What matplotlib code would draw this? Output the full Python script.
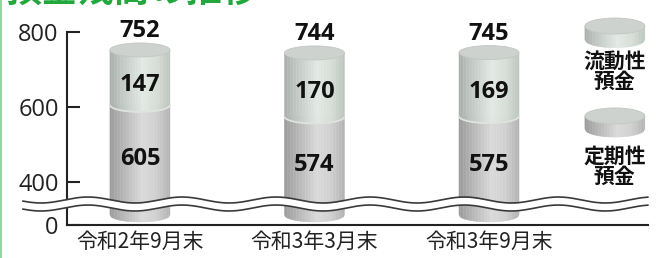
import numpy as np
import matplotlib
matplotlib.use('Agg')
import matplotlib.pyplot as plt
import matplotlib.transforms as mtransforms
from matplotlib.patches import Ellipse, Arc
from matplotlib.collections import PolyCollection
from matplotlib.colors import LinearSegmentedColormap
from matplotlib.lines import Line2D

plt.rcParams['font.family'] = ['Noto Sans CJK JP', 'DejaVu Sans']
NUM_FONT = ['Open Sans', 'Noto Sans CJK JP']

# --------------------------------------------------------------------------- #
# Data
# --------------------------------------------------------------------------- #
TITLE = '預金残高の推移'
PERIODS = ['令和2年9月末', '令和3年3月末', '令和3年9月末']
FIXED = [605, 574, 575]        # 定期性預金
LIQUID = [147, 170, 169]       # 流動性預金
TOTALS = [752, 744, 745]
YTICKS = [0, 400, 600, 800]
LEGEND_LABELS = ['流動性\n預金', '定期性\n預金']

# broken axis: everything below 400 is squeezed
BREAK = 400
K = 0.29


def fwd(v):
    v = np.asarray(v, dtype=float)
    return np.where(v >= BREAK, v, BREAK - (BREAK - v) * K)


def inv(y):
    y = np.asarray(y, dtype=float)
    return np.where(y >= BREAK, y, BREAK - (BREAK - y) / K)


fixed_cmap = LinearSegmentedColormap.from_list('fixed', [
    (0.0, '#9a9a9a'), (0.15, '#adadad'), (0.55, '#dadada'),
    (0.78, '#d0d0d0'), (0.93, '#bdbdbd'), (1.0, '#b2b2b2')])
liquid_cmap = LinearSegmentedColormap.from_list('liquid', [
    (0.0, '#a8adaa'), (0.15, '#bcc2be'), (0.55, '#e3e9e4'),
    (0.8, '#d5ddd6'), (1.0, '#bdc7be')])
CAP_COLOR = '#cdd2ce'
N_STRIPS = 40


def side(ax, xc, r, lo_fn, hi, cmap, transform=None, z=2):
    """Gradient body of a cylinder made of thin vertical strips."""
    edges = np.linspace(-1, 1, N_STRIPS + 1)
    polys, cols = [], []
    for a, b in zip(edges[:-1], edges[1:]):
        xa, xb = xc + a * r, xc + b * r
        polys.append([(xa, lo_fn(a)), (xb, lo_fn(b)), (xb, hi), (xa, hi)])
        cols.append(cmap((a + b) / 4 + 0.5))
    pc = PolyCollection(polys, facecolors=cols, edgecolors=cols,
                        linewidths=0.3, zorder=z)
    if transform is not None:
        pc.set_transform(transform)
        pc.set_clip_on(False)
    ax.add_collection(pc)


fig = plt.figure(figsize=(6.58, 2.58), dpi=100, facecolor='white')
ax = fig.add_axes([67 / 658, 33 / 258, 581 / 658, 193 / 258])
ax.set_yscale('function', functions=(fwd, inv))
ax.set_ylim(0, 800)
ax.set_xlim(-0.418, 2.911)

PX_PER_UNIT = 193 / (800 - float(fwd(0)))
HH = 7 / PX_PER_UNIT          # cap semi-height (data units, linear part)
R = 0.172                     # cylinder half width
BOT_LIFT = 10 / PX_PER_UNIT

lab_kw = dict(ha='center', va='center', fontsize=17, fontweight='bold',
              family=NUM_FONT, color='#111111', zorder=6,
              textcoords='offset points')

for i, (f, l, t) in enumerate(zip(FIXED, LIQUID, TOTALS)):
    x = i
    bot = lambda a: float(inv(fwd(0) + BOT_LIFT - HH * np.sqrt(max(1 - a * a, 0))))
    side(ax, x, R, bot, f, fixed_cmap)
    top_lo = lambda a, f=f: f - HH * np.sqrt(max(1 - a * a, 0))
    side(ax, x, R, top_lo, t, liquid_cmap, z=3)
    ax.add_patch(Arc((x, f), 2 * R, 2 * HH, theta1=190, theta2=350,
                     color='#dfe3df', lw=1.3, zorder=3.5))
    ax.add_patch(Ellipse((x, t), 2 * R, 2 * HH, fc=CAP_COLOR,
                         ec='#c2c7c3', lw=0.6, zorder=4))
    ax.annotate(str(t), (x, t + HH), xytext=(0, 0), textcoords='offset points',
                ha='center', va='bottom', fontsize=17, fontweight='bold',
                family=NUM_FONT, color='#111111', annotation_clip=False)
    ax.annotate(str(l), (x, (t - HH + f) / 2), xytext=(0, -3), **lab_kw)
    ax.annotate(str(f), (x, float(inv((f + fwd(0) + BOT_LIFT - HH) / 2))),
                xytext=(0, 3), **lab_kw)

# wavy break band
trans = mtransforms.blended_transform_factory(ax.transData, ax.transAxes)
xw = np.linspace(-0.67, 2.91, 400)
period, x0, amp = 0.539, -0.298, 0.0155
wave = amp * np.cos(2 * np.pi * (xw - x0) / period)
up, lo = 0.1295 + wave, 0.088 + wave
ax.fill_between(xw, lo, up, transform=trans, color='white', zorder=7,
                clip_on=False, lw=0)
for yy in (up, lo):
    ax.plot(xw, yy, transform=trans, color='#3a3a3a', lw=1.2, zorder=8,
            clip_on=False)

# axes styling
for s in ('top', 'right'):
    ax.spines[s].set_visible(False)
for s in ('left', 'bottom'):
    ax.spines[s].set_color('#222222')
    ax.spines[s].set_linewidth(1.5)
ax.set_yticks(YTICKS)
ax.set_yticklabels([str(v) for v in YTICKS], family=NUM_FONT)
ax.tick_params(axis='y', direction='in', length=9, width=1.5,
               labelsize=17, pad=6, colors='#222222')
ax.set_xticks(range(len(PERIODS)))
ax.set_xticklabels(PERIODS)
ax.tick_params(axis='x', length=0, labelsize=15, pad=4, colors='#222222')

# legend icons (axes fraction)
LX, LW = 0.943, 0.0516
for (ytop, ybot, ytxt), cmap, lab in zip(
        [(1.031, 0.960, 0.798), (0.565, 0.497, 0.306)],
        [liquid_cmap, fixed_cmap], LEGEND_LABELS):
    lh = 0.0415
    lo_fn = lambda a, yb=ybot: yb - lh * np.sqrt(max(1 - a * a, 0))
    side(ax, LX, LW, lo_fn, ytop, cmap, transform=ax.transAxes, z=4)
    ax.add_patch(Ellipse((LX, ytop), 2 * LW, 2 * lh, transform=ax.transAxes,
                         fc=CAP_COLOR, ec='#c2c7c3', lw=0.6, zorder=5,
                         clip_on=False))
    ax.text(LX, ytxt, lab, transform=ax.transAxes, ha='center', va='center',
            fontsize=15, fontweight='bold', linespacing=0.95, color='#111111')

# title (cut by the top edge) and green left rule
fig.text(5 / 658, 1 - 10 / 258, TITLE, ha='left', va='bottom',
         fontsize=26, fontweight='bold', color='#22a83c')
fig.add_artist(Line2D([0.002, 0.002], [0, 1], transform=fig.transFigure,
                      color='#8fd6a0', lw=1.5))

fig.savefig('out.png', dpi=100, facecolor='white')
